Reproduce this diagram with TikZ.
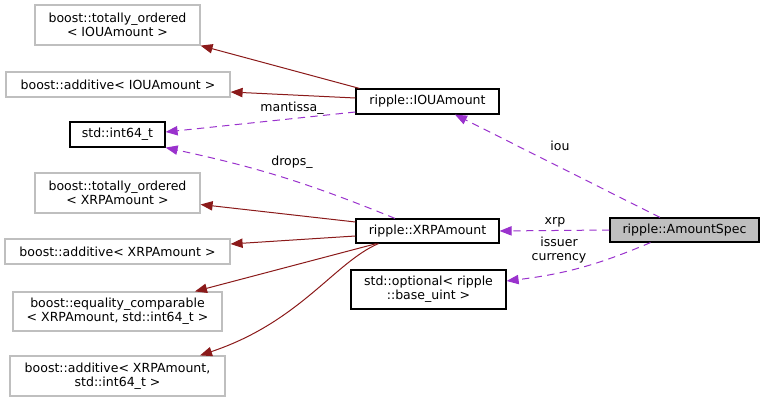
\documentclass[tikz,border=0pt]{standalone}
\usepackage{fontspec}
\setmainfont{DejaVu Sans}
\usetikzlibrary{arrows.meta,calc}
\definecolor{edgered}{HTML}{8B1A1A}
\definecolor{edgepurple}{HTML}{9A32CD}
\definecolor{grey75}{HTML}{BFBFBF}

\begin{document}
\begin{tikzpicture}[x=0.75pt,y=-0.75pt,
  every node/.style={font=\fontsize{9.4}{10.5}\selectfont, inner sep=0pt, align=center},
  wh/.style 2 args={minimum width=#1*0.75pt, minimum height=#2*0.75pt},
  cls/.style={draw=grey75, line width=0.9pt, rectangle},
  doc/.style={draw=black, line width=0.9pt, rectangle},
  inh/.style={edgered, line width=0.75pt, -{Triangle[length=9pt,width=7pt]}},
  use/.style={edgepurple, line width=0.75pt, dash pattern=on 5.5pt off 4pt,
    -{Triangle[length=9pt,width=7pt]}}]
\useasboundingbox (0,0) rectangle (765,403);

% base classes and members
\node[cls, wh={165}{40}] (totIOU) at (117.5,25) {boost::totally\_ordered\\< IOUAmount >};
\node[cls, wh={224}{25}] (addIOU) at (118,84.5) {boost::additive< IOUAmount >};
\node[doc, wh={95}{25}] (int64) at (117.5,134.5) {std::int64\_t};
\node[cls, wh={165}{40}] (totXRP) at (117.5,193) {boost::totally\_ordered\\< XRPAmount >};
\node[cls, wh={225}{25}] (addXRP) at (117.5,251.5) {boost::additive< XRPAmount >};
\node[cls, wh={209}{39}] (eqXRP) at (117.5,311.5) {boost::equality\_comparable\\< XRPAmount, std::int64\_t >};
\node[cls, wh={215}{40}] (addXRPint) at (117.5,376) {boost::additive< XRPAmount,\\std::int64\_t >};

% amount types
\node[doc, wh={143}{25}] (iouAmt) at (427.5,101.5) {ripple::IOUAmount};
\node[doc, wh={143}{24}] (xrpAmt) at (427.5,231) {ripple::XRPAmount};
\node[doc, wh={155}{39}] (optUint) at (428.5,289.5) {std::optional< ripple\\::base\_uint >};
\node[draw=black, fill=grey75, line width=0.9pt, wh={149}{24}] (amtSpec) at (684.5,230) {ripple::AmountSpec};

% inheritance
\draw[inh] ($(iouAmt.north west)+(4,0)$) -- (totIOU.south east);
\draw[inh] ($(iouAmt.west)+(0,-3.5)$) -- ($(addIOU.east)+(0,7.5)$);
\draw[inh] ($(xrpAmt.west)+(0,-9)$) -- ($(totXRP.east)+(0,11.5)$);
\draw[inh] ($(xrpAmt.west)+(0,5)$) -- ($(addXRP.east)+(0,-7.5)$);
\draw[inh] ($(xrpAmt.south)+(-51,0)$) -- ($(eqXRP.north)+(77.5,0)$);
\draw[inh] ($(xrpAmt.south)+(-49,0)$) .. controls (335,262) and (300,322) .. ($(addXRPint.north)+(82.5,0)$);

% usage
\draw[use] ($(iouAmt.west)+(0,10.5)$) -- ($(int64.east)+(0,-2.5)$);
\draw[use] ($(xrpAmt.north)+(-32.5,0)$) to[bend right=5] (int64.south east);
\draw[use] ($(amtSpec.north)+(-24.5,0)$) -- ($(iouAmt.south)+(27.5,0)$);
\draw[use] (amtSpec.west) -- (xrpAmt.east);
\draw[use] ($(amtSpec.south)+(-34,0)$) to[bend left=8] ($(optUint.east)+(0,-8.5)$);

\node (mantissa) at (292,108) {mantissa\_};
\node (drops) at (292,162) {drops\_};
\node (iou) at (560,146) {iou};
\node (xrp) at (555,222) {xrp};
\node (issuer) at (559,250) {issuer\\currency};
\end{tikzpicture}
\end{document}
